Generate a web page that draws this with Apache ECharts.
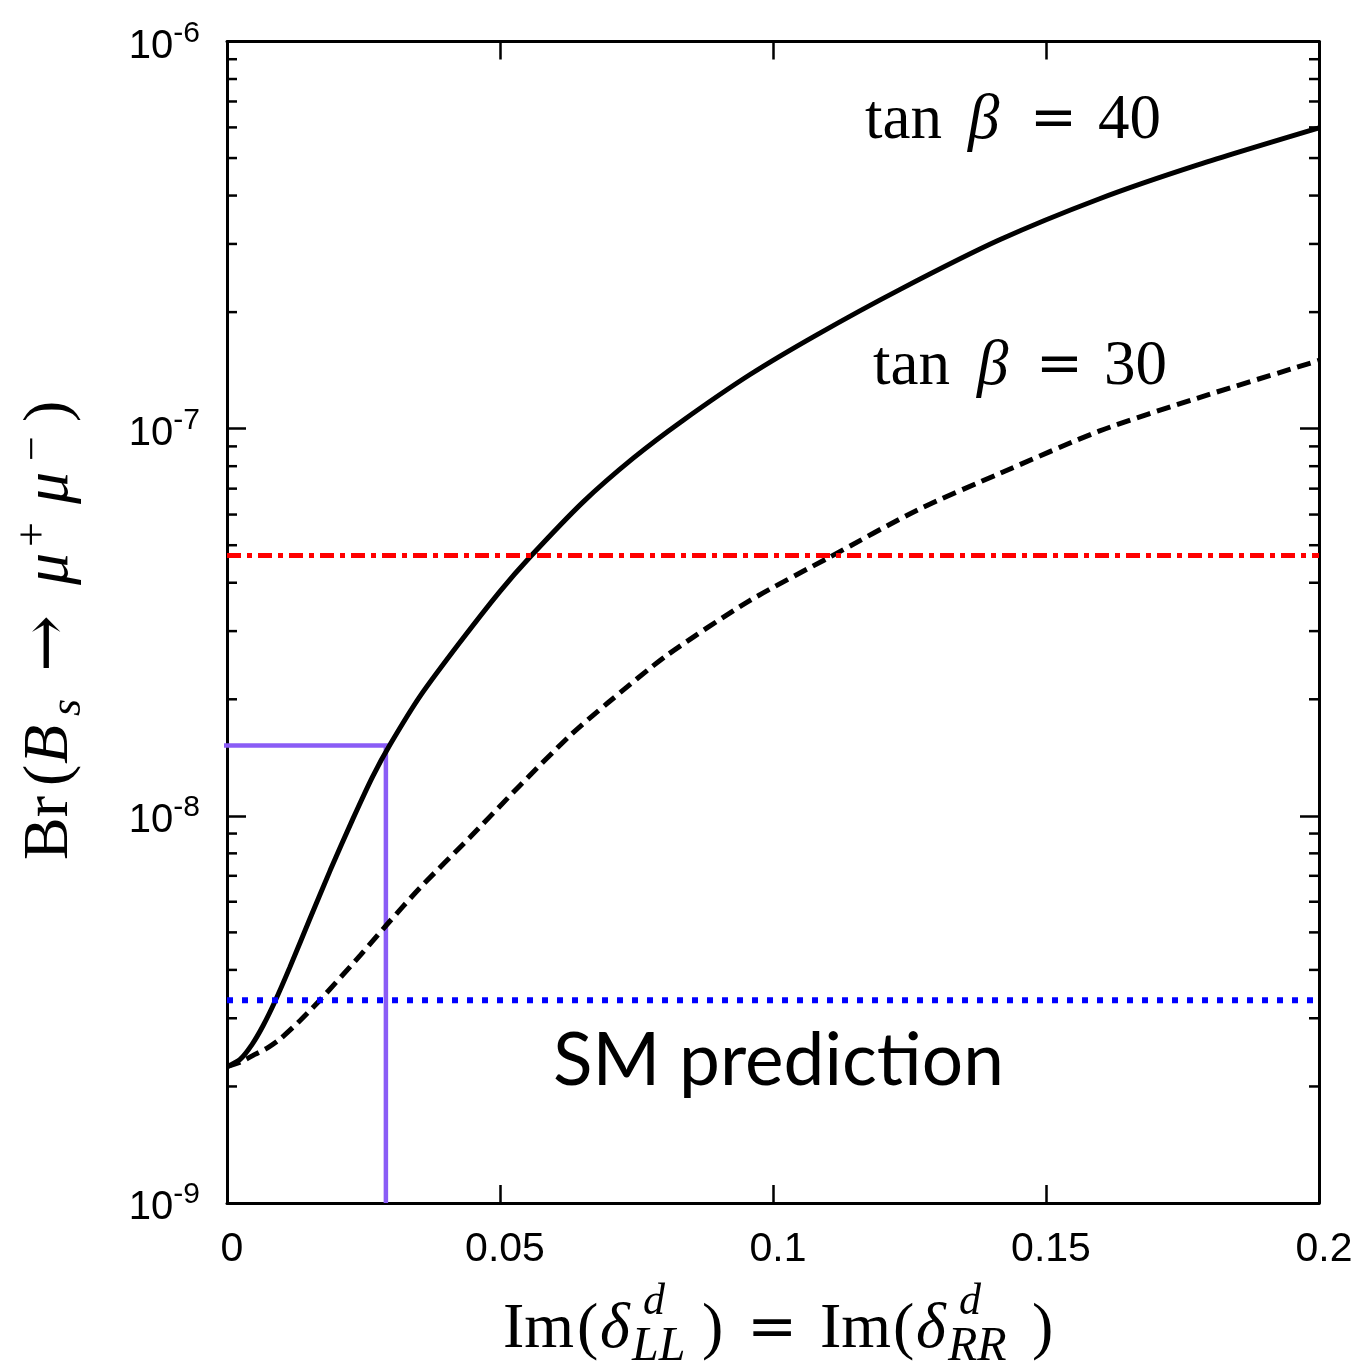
<!DOCTYPE html>
<html>
<head>
<meta charset="utf-8">
<script src="https://cdn.jsdelivr.net/npm/echarts@6/dist/echarts.min.js"></script>
<style>
  html, body { margin: 0; padding: 0; background: #ffffff; }
  #chart { width: 1359px; height: 1368px; }
</style>
</head>
<body>
<div id="chart"></div>
<script>
// Branching ratio Br(Bs -> mu+ mu-) against Im(delta_LL) = Im(delta_RR)

// tan(beta) = 40 curve
const tan40X = [0, 0.0024, 0.0046, 0.0066, 0.0088, 0.0115, 0.0152, 0.0189, 0.0231, 0.0267,
                0.0299, 0.0354, 0.0427, 0.05, 0.0555, 0.0652, 0.0744, 0.0835, 0.0958, 0.1081,
                0.1233, 0.1414, 0.1597, 0.1778, 0.2];
const tan40Y = [2.25e-9, 2.35e-9, 2.57e-9, 2.87e-9, 3.32e-9, 4.06e-9, 5.43e-9, 7.23e-9, 9.85e-9, 1.265e-8,
                1.53e-8, 2.04e-8, 2.81e-8, 3.80e-8, 4.66e-8, 6.46e-8, 8.39e-8, 1.05e-7, 1.38e-7, 1.75e-7,
                2.29e-7, 3.07e-7, 3.92e-7, 4.80e-7, 5.98e-7];

// tan(beta) = 30 curve
const tan30X = [0, 0.0024, 0.0051, 0.0075, 0.0097, 0.0134, 0.0170, 0.0244, 0.0293, 0.0354,
                0.0445, 0.0537, 0.0628, 0.0696, 0.0806, 0.0958, 0.1104, 0.1264, 0.1416, 0.1597,
                0.1778, 0.2];
const tan30Y = [2.25e-9, 2.31e-9, 2.42e-9, 2.52e-9, 2.65e-9, 2.96e-9, 3.34e-9, 4.36e-9, 5.24e-9, 6.53e-9,
                8.80e-9, 1.20e-8, 1.61e-8, 1.95e-8, 2.60e-8, 3.60e-8, 4.66e-8, 6.16e-8, 7.67e-8, 9.85e-8,
                1.20e-7, 1.50e-7];

// horizontal reference levels
const smPrediction = 3.34e-9;
const experimentalBound = 4.7e-8;

// marker of the tan(beta) = 40 crossing
const markerX = 0.0291;
const markerY = 1.52e-8;
const markerLineFrom = -0.0017;
const markerLineTo = 0.0299;

// axis ranges and minor ticks of the log axis
const xRange = [0, 0.2];
const xStep = 0.05;
const yRange = [1e-9, 1e-6];
const minorMantissas = [2, 3, 4, 5, 6, 7, 8, 9];
const minorDecades = [1e-9, 1e-8, 1e-7];

const zip = (xs, ys) => xs.map((x, i) => [x, ys[i]]);
const serif = "'Liberation Serif', 'DejaVu Serif', serif";
const symbolFont = "'DejaVu Serif', serif";
const sans = "'Liberation Sans', Arial, sans-serif";

const minorTicks = [];
minorDecades.forEach(d => minorMantissas.forEach(m => minorTicks.push([xRange[0], m * d])));

const black = '#000000';

function xAxisDef(position, showLabel) {
  return {
    type: 'value', position: position, min: xRange[0], max: xRange[1], interval: xStep,
    axisLine: { show: true, onZero: false, lineStyle: { color: black, width: 3 } },
    axisTick: { show: true, inside: true, length: 18, lineStyle: { color: black, width: 2.5 } },
    axisLabel: {
      show: showLabel, color: black, fontFamily: sans, fontSize: 41, margin: 26,
      padding: [0, 0, 0, 10]
    },
    splitLine: { show: false }
  };
}

function yAxisDef(position, showLabel) {
  return {
    type: 'log', logBase: 10, position: position, min: yRange[0], max: yRange[1],
    axisLine: { show: true, onZero: false, lineStyle: { color: black, width: 3 } },
    axisTick: { show: true, inside: true, length: 19, lineStyle: { color: black, width: 2.5 } },
    axisLabel: {
      show: showLabel, margin: 27, padding: [10, 0, 0, 0],
      formatter: v => '{b|10}{s|' + Math.round(Math.log10(v)) + '}',
      rich: {
        b: { fontSize: 40, lineHeight: 56, fontFamily: sans, color: black },
        s: { fontSize: 30, lineHeight: 20, fontFamily: sans, color: black, verticalAlign: 'top' }
      }
    },
    splitLine: { show: false },
    minorTick: { show: false }
  };
}

function piece(text, x, y, size, italic, family) {
  return {
    type: 'text', x: x, y: y, silent: true,
    style: {
      text: text, fontSize: size, fontFamily: family || serif,
      fontStyle: italic ? 'italic' : 'normal', fill: black,
      align: 'left', verticalAlign: 'middle'
    }
  };
}

const chart = echarts.init(document.getElementById('chart'), null, { renderer: 'canvas' });

chart.setOption({
  animation: false,
  backgroundColor: '#ffffff',
  grid: { left: 227, right: 40, top: 41.5, bottom: 165, containLabel: false, outerBoundsMode: 'none' },
  xAxis: [xAxisDef('bottom', true), xAxisDef('top', false)],
  yAxis: [yAxisDef('left', true), yAxisDef('right', false)],
  series: [
    {
      name: 'tan30', type: 'line', data: zip(tan30X, tan30Y), showSymbol: false,
      smooth: 0.25,
      lineStyle: { color: black, width: 5, type: [14, 7] }, z: 3
    },
    {
      name: 'tan40', type: 'line', data: zip(tan40X, tan40Y), showSymbol: false,
      smooth: 0.25,
      lineStyle: { color: black, width: 5, type: 'solid' }, z: 3
    },
    {
      name: 'marker-h', type: 'line', data: [[markerLineFrom, markerY], [markerLineTo, markerY]],
      showSymbol: false, clip: false,
      lineStyle: { color: '#8a5cf6', width: 4.5 }, z: 2
    },
    {
      name: 'marker-v', type: 'line', data: [[markerX, markerY], [markerX, yRange[0]]],
      showSymbol: false, clip: false,
      lineStyle: { color: '#8a5cf6', width: 4.5 }, z: 2
    },
    {
      name: 'bound', type: 'line', data: [[xRange[0], experimentalBound], [xRange[1], experimentalBound]],
      showSymbol: false,
      lineStyle: { color: '#ff0000', width: 5, type: [14, 6, 5, 6] }, z: 4
    },
    {
      name: 'sm', type: 'line', data: [[xRange[0], smPrediction], [xRange[1], smPrediction]],
      showSymbol: false,
      lineStyle: { color: '#0000ff', width: 6, type: [6, 9] }, z: 4
    },
    {
      name: 'minor-ticks', type: 'custom', data: minorTicks, silent: true, clip: false, z: 5,
      encode: { x: 0, y: 1 },
      renderItem: function (params, api) {
        const v = api.value(1);
        const l = api.coord([xRange[0], v]);
        const r = api.coord([xRange[1], v]);
        const st = { stroke: black, lineWidth: 2.5 };
        return {
          type: 'group',
          children: [
            { type: 'line', shape: { x1: l[0], y1: l[1], x2: l[0] + 10, y2: l[1] }, style: st },
            { type: 'line', shape: { x1: r[0] - 10, y1: r[1], x2: r[0], y2: r[1] }, style: st }
          ]
        };
      }
    }
  ],
  graphic: [
    // vertical axis title, read from bottom to top
    {
      type: 'group', x: 50, y: 860, rotation: Math.PI / 2, silent: true,
      children: [
        piece('Br', 0, 0, 64, false),
        piece('(', 74, 0, 64, false),
        piece('B', 96, 0, 64, true),
        piece('s', 144, 18, 44, true),
        piece('→', 188, 0, 68, false, symbolFont),
        piece('μ', 275, 0, 64, true),
        piece('+', 313, -16, 44, false),
        piece('μ', 356, 0, 64, true),
        piece('−', 399, -16, 44, false),
        piece(')', 438, 0, 64, false)
      ]
    },
    // horizontal axis title
    piece('Im', 503, 1330, 64, false),
    piece('(', 577, 1330, 64, false),
    piece('δ', 600, 1330, 64, true),
    piece('d', 643, 1302, 44, true),
    piece('LL', 632, 1347, 48, true),
    piece(')', 702, 1330, 64, false),
    piece('=', 747, 1330, 60, false, symbolFont),
    piece('Im', 820, 1330, 64, false),
    piece('(', 893, 1330, 64, false),
    piece('δ', 916, 1330, 64, true),
    piece('d', 959, 1302, 44, true),
    piece('RR', 948, 1347, 48, true),
    piece(')', 1032, 1330, 64, false),
    // curve labels
    piece('tan', 865, 121, 63, false),
    piece('β', 968, 121, 63, true),
    piece('=', 1030, 121, 56, false, symbolFont),
    piece('40', 1098, 121, 63, false),
    piece('tan', 873, 367, 63, false),
    piece('β', 977, 367, 63, true),
    piece('=', 1036, 367, 56, false, symbolFont),
    piece('30', 1104, 367, 63, false),
    // reference level label
    piece('SM prediction', 553, 1061, 73, false, "Lato, 'Open Sans', sans-serif")
  ]
});
</script>
</body>
</html>
